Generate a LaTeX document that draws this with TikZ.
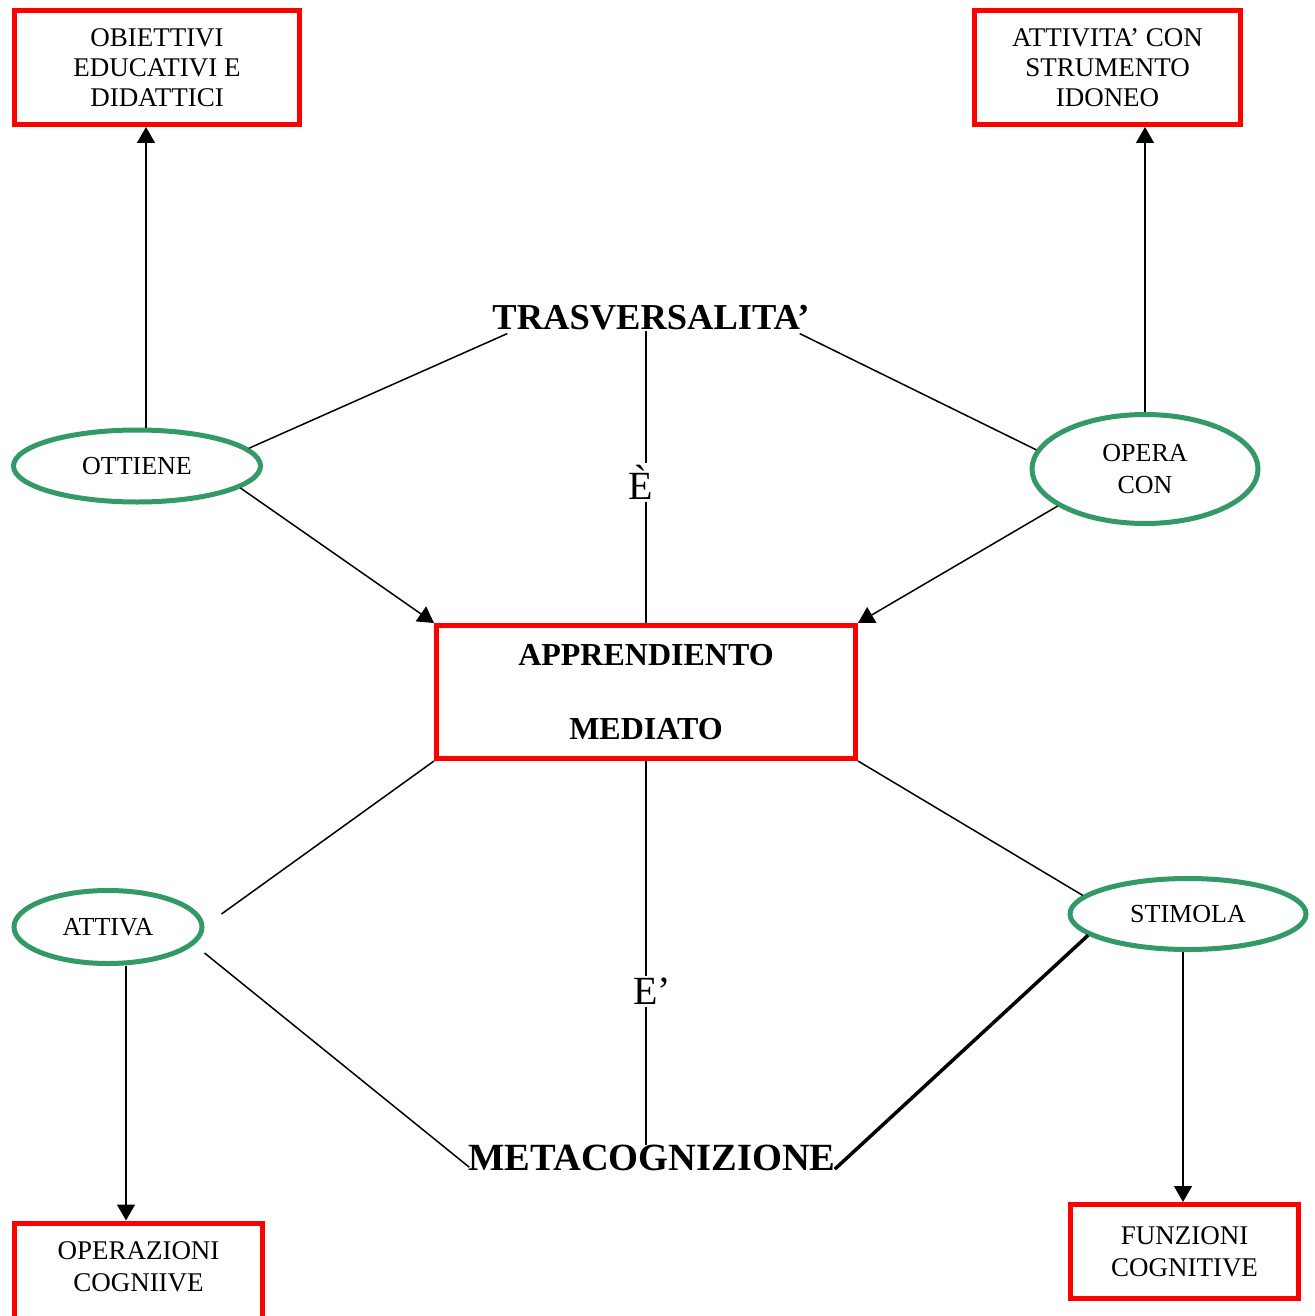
\documentclass[tikz,border=0pt]{standalone}
\usepackage{fontspec}
\setmainfont{Liberation Serif}
\usetikzlibrary{shapes.geometric,arrows.meta}
\definecolor{boxred}{RGB}{255,0,0}
\definecolor{ellgreen}{RGB}{51,153,102}
\begin{document}
\begin{tikzpicture}[x=1pt,y=-1pt,
  redbox/.style={draw=boxred,line width=5pt,align=center,inner sep=0pt},
  greenell/.style={ellipse,draw=ellgreen,line width=5pt,align=center,inner sep=0pt,font=\fontsize{26}{32}\selectfont},
  boxtext/.style={font=\fontsize{27}{30}\selectfont},
  boxtextb/.style={font=\fontsize{27}{32}\selectfont},
  link/.style={line width=1.5pt},
  arr/.style={line width=1.5pt,-{Triangle[length=16pt,width=18pt]}},
  kwtext/.style={inner sep=0pt},
  lbl/.style={fill=white,inner sep=2pt,font=\fontsize{40}{44}\selectfont}]
\useasboundingbox[fill=white] (0,0) rectangle (1314,1316);

% boxes
\node[redbox,boxtext,minimum width=285pt,minimum height=114pt] (obj) at (157,67.5) {OBIETTIVI\\EDUCATIVI E\\DIDATTICI};
\node[redbox,boxtext,minimum width=266pt,minimum height=114pt] (att) at (1107.5,67.5) {ATTIVITA’ CON\\STRUMENTO\\IDONEO};
\node[redbox,minimum width=419pt,minimum height=133pt,font=\bfseries\fontsize{32}{37}\selectfont] (central) at (646,692) {APPRENDIENTO\\[37pt]MEDIATO};
\node[redbox,boxtextb,minimum width=248pt,minimum height=116pt] (oper) at (138.5,1281) {OPERAZIONI\\COGNIIVE\\[-12pt]\strut};
\node[redbox,boxtextb,minimum width=228pt,minimum height=94pt] (funz) at (1184.5,1251.5) {FUNZIONI\\COGNITIVE};

% ellipses
\node[greenell,minimum width=247pt,minimum height=72pt] (ott) at (137,466) {OTTIENE};
\node[greenell,minimum width=226pt,minimum height=109pt] (opera) at (1145,469) {OPERA\\CON};
\node[greenell,minimum width=188pt,minimum height=73pt] (attiva) at (108,927) {ATTIVA};
\node[greenell,minimum width=236pt,minimum height=71pt] (stim) at (1188,914) {STIMOLA};

% keywords
\node[kwtext,font=\bfseries\fontsize{36.5}{40}\selectfont] (trasv) at (651,318) {TRASVERSALITA’};
\node[kwtext,font=\bfseries\fontsize{38.5}{42}\selectfont] (meta) at (652,1158) {METACOGNIZIONE};

% connectors (upper part)
\draw[link] ([shift={(15,3)}]trasv.south west) -- (ott.9);
\draw[link] ([shift={(-10,3)}]trasv.south east) -- (opera.170);
\draw[link] (central.north) -- (central.north |- trasv.south)
  node[lbl,pos=0.48,xshift=-5pt] (lblE) {È};
\draw[arr] (ott.-12) -- (central.north west);
\draw[arr] (opera.203) -- (central.north east);
\draw[arr] ([xshift=9pt]ott.north) -- ([xshift=9pt]ott.north |- obj.south);
\draw[arr] (opera.north) -- (opera.north |- att.south);

% connectors (lower part)
\draw[link] ([shift={(17,-13)}]attiva.east) -- (central.south west);
\draw[link] (central.south east) -- (stim.170);
\draw[link] (central.south) -- (central.south |- meta.north)
  node[lbl,pos=0.6,xshift=6pt] (lblEp) {E’};
\draw[link] ([shift={(0,26)}]attiva.east) -- ([shift={(1,-4)}]meta.south west);
\draw[line width=3.5pt] (stim.192) -- ([shift={(-1,-2)}]meta.south east);
\draw[arr] ([xshift=18pt]attiva.south) -- ([xshift=18pt]attiva.south |- oper.north);
\draw[arr] ([xshift=-5pt]stim.south) -- ([xshift=-5pt]stim.south |- funz.north);
\end{tikzpicture}
\end{document}
